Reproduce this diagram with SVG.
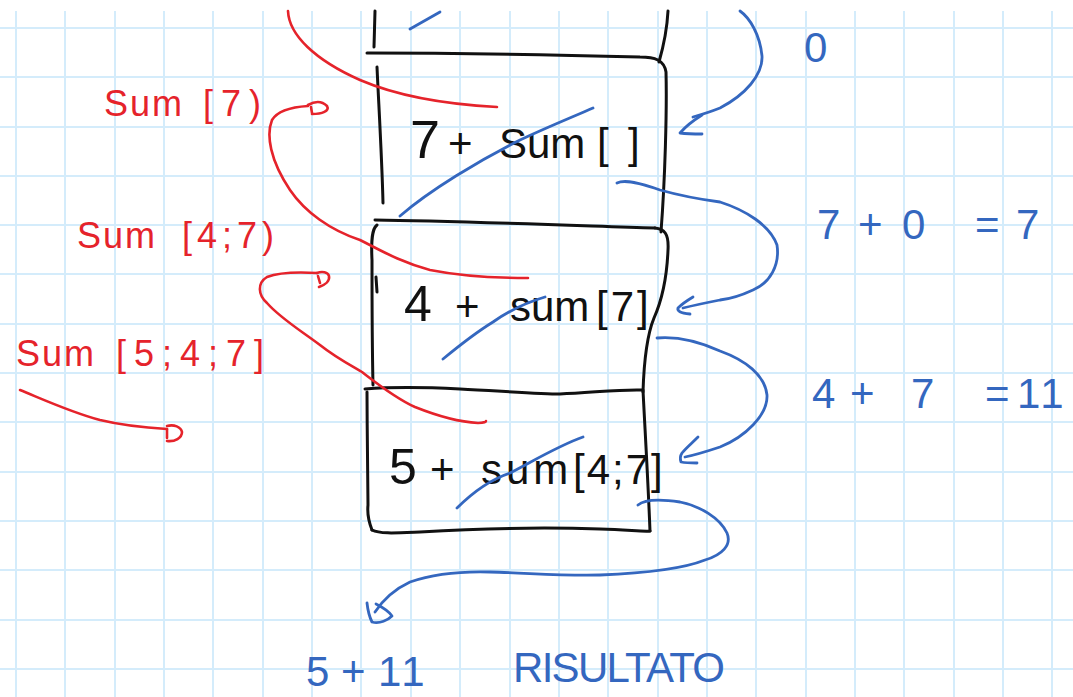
<svg xmlns="http://www.w3.org/2000/svg" width="1073" height="697" viewBox="0 0 1073 697">
<style>
.grid{stroke:#d4ecfb;stroke-width:2;fill:none}
.ink{stroke:#111;stroke-width:3;fill:none;stroke-linecap:round;stroke-linejoin:round}
.red{stroke:#e5232b;stroke-width:2.6;fill:none;stroke-linecap:round;stroke-linejoin:round}
.blue{stroke:#3467bf;stroke-width:2.8;fill:none;stroke-linecap:round;stroke-linejoin:round}
text{font-family:"Liberation Sans",Arial,sans-serif}
.tk{fill:#111;font-size:42px}
.tr{fill:#e5232b;font-size:36px}
.tb{fill:#3467bf;font-size:42px}
</style>
<rect x="0" y="0" width="1073" height="697" fill="#fff"/>
<g id="grid">
<path class="grid" d="M16,11V697M65,11V697M115,11V697M164,11V697M213,11V697M263,11V697M312,11V697M361,11V697M411,11V697M460,11V697M510,11V697M559,11V697M608,11V697M658,11V697M707,11V697M756,11V697M806,11V697M855,11V697M904,11V697M954,11V697M1003,11V697M1052,11V697"/>
<path class="grid" d="M0,28H1073M0,77H1073M0,127H1073M0,176H1073M0,225H1073M0,274H1073M0,324H1073M0,373H1073M0,422H1073M0,472H1073M0,521H1073M0,570H1073M0,620H1073M0,669H1073"/>
</g>
<g id="frame-top">
<path class="ink" d="M375,11 L374,47"/>
<path class="ink" d="M668,11 C667,30 663,48 659,62"/>
</g>
<g id="box-1">
<path class="ink" d="M367,53 C450,53 560,55 640,57 C655,57 664,60 666,72 C667,110 665,180 661,232"/>
<path class="ink" d="M377,67 C379,110 382,160 383,203"/>
<path class="ink" d="M375,220 C450,221 560,225 655,228"/>
<text class="tk" y="158"><tspan x="410" font-size="54">7</tspan><tspan x="448">+</tspan><tspan x="499">Sum</tspan><tspan x="597">[</tspan><tspan x="628">]</tspan></text>
</g>
<g id="box-2">
<path class="ink" d="M655,228 C664,229 669,233 668,250 C667,275 662,300 654,318 C647,335 644,360 643,392"/>
<path class="ink" d="M377,225 C372,229 371,240 372,260 C372,300 372,340 373,385"/>
<path class="ink" d="M376,277 L377,292"/>
<text class="tk" y="321"><tspan x="404" font-size="50">4</tspan><tspan x="455">+</tspan><tspan x="510">sum</tspan><tspan x="596" letter-spacing="3">[7]</tspan></text>
</g>
<g id="box-3">
<path class="ink" d="M365,389 C390,387 420,387 460,389 C500,391 540,394 560,394 C590,393 620,389 643,390 C645,430 648,480 650,531"/>
<path class="ink" d="M367,392 C367,430 368,470 368,505 C367,515 370,525 372,530"/>
<path class="ink" d="M372,530 C380,534 395,533 420,532 C470,529 540,527 600,529 C630,530 645,532 650,531"/>
<text class="tk" y="484"><tspan x="389" font-size="50">5</tspan><tspan x="430">+</tspan><tspan x="481" letter-spacing="4">sum</tspan><tspan x="573" letter-spacing="2">[4;7]</tspan></text>
</g>
<g id="labels-red">
<text class="tr" y="116"><tspan x="104" letter-spacing="2">Sum</tspan><tspan x="203" letter-spacing="8">[7)</tspan></text>
<text class="tr" y="248"><tspan x="77" letter-spacing="2">Sum</tspan><tspan x="182" letter-spacing="5">[4;7)</tspan></text>
<text class="tr" y="366"><tspan x="16" letter-spacing="2">Sum</tspan><tspan x="116" letter-spacing="8">[5;4;7]</tspan></text>
</g>
<g id="labels-blue">
<text class="tb" x="804" y="62">0</text>
<text class="tb" y="239"><tspan x="817">7</tspan><tspan x="858">+</tspan><tspan x="902">0</tspan><tspan x="975">=</tspan><tspan x="1016">7</tspan></text>
<text class="tb" y="408"><tspan x="812">4</tspan><tspan x="850">+</tspan><tspan x="911">7</tspan><tspan x="985">=</tspan><tspan x="1017" letter-spacing="3">11</tspan></text>
<text class="tb" y="686" font-size="42"><tspan x="306">5</tspan><tspan x="341">+</tspan><tspan x="378" letter-spacing="3">11</tspan></text>
<text class="tb" x="513" y="682" font-size="30" textLength="212" lengthAdjust="spacing">RISULTATO</text>
</g>
<g id="connectors">
<path class="red" d="M288,11 C289,35 315,60 360,80 C395,95 440,104 497,107"/>
<path class="red" d="M308,106 C292,107 278,110 272,120 C266,135 270,160 290,190 C305,212 330,230 360,240 C380,250 400,262 430,270 C460,276 495,278 528,278"/>
<path class="red" d="M308,105 C315,101 322,101 327,106 C330,111 322,114 312,114 M311,107 L312,113"/>
<path class="red" d="M317,273 C300,272 280,272 267,277 C257,283 258,295 267,303 C280,318 300,330 320,345 C335,357 350,365 362,372 C375,382 395,398 415,407 C440,417 460,422 478,423 C483,423 486,422 486,421"/>
<path class="red" d="M317,273 C322,271 328,272 329,276 C330,281 325,285 319,287 M318,276 L320,283"/>
<path class="red" d="M20,390 C40,398 70,412 100,420 C125,426 150,428 167,429"/>
<path class="red" d="M167,426 C174,424 181,427 182,432 C182,438 175,442 167,441 M167,429 L167,438"/>
<path class="blue" d="M410,29 L440,12"/>
<path class="blue" d="M400,216 C430,190 480,160 520,140 C550,126 575,116 593,108"/>
<path class="blue" d="M740,11 C750,18 760,35 762,56 C763,75 745,95 720,108 C710,112 700,115 693,117"/>
<path class="blue" d="M702,115 C694,120 686,126 680,133 C688,134 695,134 702,134"/>
<path class="blue" d="M617,183 C625,179 640,183 660,190 C685,197 705,200 720,202 C745,210 770,225 777,245 C780,265 770,283 753,290 C740,296 730,299 720,300 C705,303 695,305 683,308"/>
<path class="blue" d="M693,297 C688,300 682,304 678,308 C677,311 680,313 690,314"/>
<path class="blue" d="M443,359 C460,345 480,330 493,322 C510,310 528,302 545,297"/>
<path class="blue" d="M657,338 C680,336 700,342 720,351 C745,360 765,375 767,395 C768,415 745,437 720,447 C708,451 695,455 685,457"/>
<path class="blue" d="M698,437 C692,443 686,448 682,453 C680,456 680,459 681,462 C686,463 692,463 697,463"/>
<path class="blue" d="M457,508 C475,490 495,478 510,473 C535,460 560,445 583,437"/>
<path class="blue" d="M638,505 C645,499 660,499 680,502 C700,506 720,518 727,533 C732,545 722,555 705,560 C685,568 650,573 600,575 C560,576 530,573 490,572 C455,571 430,575 410,582 C395,589 383,600 375,612"/>
<path class="blue" d="M367,603 C368,612 370,618 372,622 C380,624 388,620 392,616 C388,610 382,607 376,604"/>
</g>
</svg>
